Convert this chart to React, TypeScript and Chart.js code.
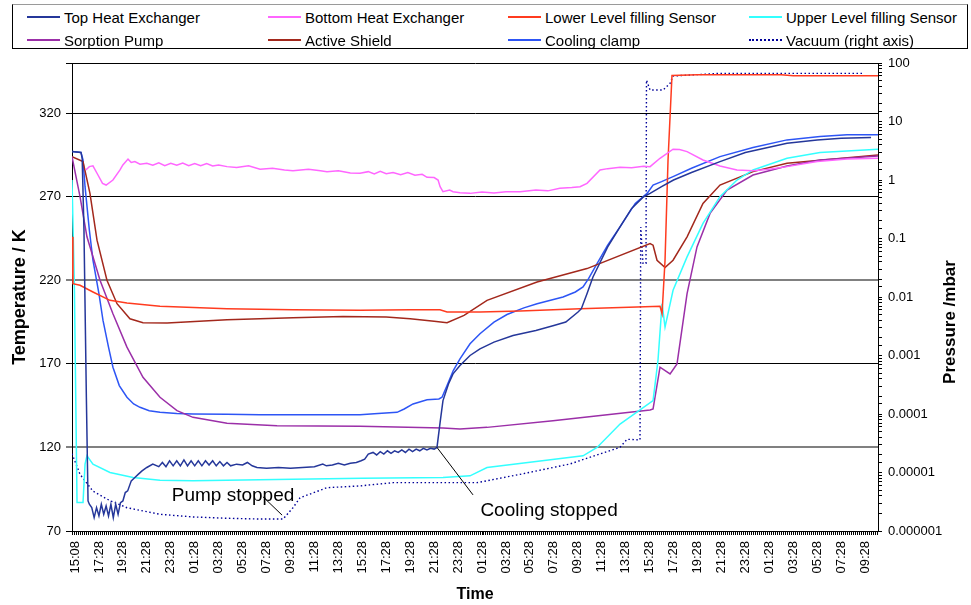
import React, { useEffect, useRef } from "react";
import { Chart, registerables } from "chart.js";

Chart.register(...registerables);

// ---------- data ----------
// x values are hours from the first label (each time label = 2 h step)
const timeLabels = [
  "15:08", "17:28", "19:28", "21:28", "23:28", "01:28", "03:28", "05:28", "07:28", "09:28",
  "11:28", "13:28", "15:28", "17:28", "19:28", "21:28", "23:28", "01:28", "03:28", "05:28",
  "07:28", "09:28", "11:28", "13:28", "15:28", "17:28", "19:28", "21:28", "23:28", "01:28",
  "03:28", "05:28", "07:28", "09:28",
];
const leftTicks = [70, 120, 170, 220, 270, 320];
const pressureLabels = ["0.000001", "0.00001", "0.0001", "0.001", "0.01", "0.1", "1", "10", "100"];

const topHeatExchanger: [number, number][] = [
  [-0.25, 297], [0.5, 296.5], [0.6, 293], [0.75, 250], [0.95, 150], [1.09, 88], [1.2, 86],
  [1.4, 84], [1.6, 78], [1.8, 84], [2.0, 79], [2.2, 86], [2.4, 80], [2.6, 85], [2.8, 79],
  [3.0, 86], [3.2, 78], [3.4, 86], [3.6, 80], [3.8, 87], [4.0, 88], [4.2, 93], [4.4, 94],
  [4.7, 100], [5.0, 102], [5.3, 104], [5.6, 106], [6.0, 108], [6.5, 110],
  [7.0, 108.5], [7.3, 111], [7.6, 108.5], [7.9, 112], [8.2, 109], [8.5, 112], [8.8, 109],
  [9.1, 112.5], [9.4, 109], [9.7, 112], [10.0, 109], [10.3, 112], [10.6, 109], [10.9, 112],
  [11.2, 109.5], [11.5, 112], [11.8, 109], [12.1, 111.5], [12.4, 109], [12.7, 111], [13.0, 109],
  [13.5, 110], [14.0, 109.5], [14.4, 111], [14.8, 109], [15.2, 108], [16.0, 107.5], [17.0, 108],
  [18.0, 107.5], [19.0, 108], [20.0, 108.5], [20.7, 110], [21.0, 109], [21.5, 109.5], [22.0, 110.5],
  [22.5, 109.5], [23.0, 110.5], [23.5, 111], [23.9, 112], [24.2, 113], [24.5, 116], [24.9, 117],
  [25.2, 115.5], [25.5, 117.5], [25.8, 116], [26.1, 118], [26.4, 116.5], [26.7, 118], [27.0, 117],
  [27.3, 118.5], [27.6, 117], [27.9, 119], [28.2, 117.5], [28.5, 119], [28.8, 118], [29.1, 119.5],
  [29.4, 118.5], [29.7, 119.5], [30.0, 119], [30.24, 120],
  [30.5, 135], [30.74, 148], [31.2, 158], [31.58, 164], [32.16, 169], [33.0, 175], [33.83, 179],
  [35.0, 183], [36.59, 187], [38.5, 190], [40.0, 193], [41.0, 195], [42.02, 201], [42.3, 203],
  [42.77, 212], [43.27, 222], [44.5, 240], [45.53, 252], [46.5, 263], [47.5, 270], [48.04, 272],
  [49.0, 276], [50.0, 280], [51.5, 284.5], [53.88, 291], [56.0, 296.5], [59.48, 302], [62.0, 304],
  [64.0, 305], [66.5, 305.5],
];

const bottomHeatExchanger: [number, number][] = [
  [0.9, 286], [1.2, 288], [1.5, 288.5], [1.92, 283], [2.3, 278], [2.6, 277], [3.17, 280],
  [3.76, 286], [4.0, 289], [4.43, 292.5], [4.7, 290.5], [5.0, 291], [5.43, 289.5], [6.0, 290],
  [6.5, 288.8], [7.0, 290.3], [7.5, 288.5], [8.0, 290], [8.5, 288.8], [9.0, 290.2], [9.5, 288.6],
  [10.0, 289.8], [10.5, 288.5], [11.0, 289.8], [11.5, 288.4], [12.0, 289], [12.7, 288], [13.5, 287.5],
  [14.5, 288.5], [15.46, 286.4], [16.5, 287], [17.5, 286], [18.21, 285.6], [19.5, 286.4], [20.5, 285.5],
  [21.05, 285], [22.0, 285.5], [23.0, 284.2], [23.81, 284], [24.5, 285], [25.0, 283.6], [25.5, 285.2],
  [26.0, 283.8], [26.57, 284.5], [27.2, 283.2], [27.8, 284.4], [28.4, 282.8], [29.0, 283.4], [29.41, 281.6],
  [30.0, 281.5], [30.33, 280], [30.5, 276], [30.74, 273], [31.3, 274], [31.58, 273], [32.16, 272.4],
  [33.0, 272], [34.0, 272.8], [35.0, 272.2], [36.0, 273], [37.18, 273], [38.5, 274], [39.5, 273.5],
  [40.5, 275], [41.5, 275.5], [42.19, 276], [42.77, 278], [43.86, 286], [44.5, 286.8], [45.53, 287.6],
  [46.5, 287.4], [47.5, 288.2], [48.04, 288], [48.87, 293], [49.96, 298.4], [50.5, 298.2], [51.13, 297],
  [52.46, 292], [53.88, 288.4], [55.3, 286], [56.64, 285.6], [58.0, 286.5], [59.48, 288], [62.0, 291],
  [64.5, 292.5], [67.08, 293],
];

const lowerLevelSensor: [number, number][] = [
  [-0.25, 246], [-0.17, 218], [0.42, 217], [1.5, 213], [2.92, 208], [4.34, 206.4], [7.1, 204.4],
  [12.7, 203], [18.21, 202.4], [23.81, 202], [28.0, 202.4], [30.49, 202.4], [31.08, 201], [33.83, 201],
  [37.18, 201.6], [42.19, 203], [46.95, 204], [48.87, 204.4], [49.04, 200], [49.29, 232], [49.54, 292],
  [49.87, 342.5], [52.0, 343], [59.0, 343], [60.0, 342.4], [67.08, 342.4],
];

const upperLevelSensor: [number, number][] = [
  [-0.25, 280], [-0.05, 216], [0.17, 87], [0.67, 87], [0.84, 110], [1.0, 115], [1.5, 110],
  [2.92, 105], [4.85, 102], [7.1, 100.4], [9.86, 100], [18.21, 101], [24.0, 101.5], [30.74, 102],
  [33.0, 103], [34.42, 108], [42.44, 115], [43.61, 120], [45.53, 134], [48.29, 148], [48.7, 172],
  [49.04, 206], [49.29, 192], [49.96, 214], [51.13, 234], [52.46, 254], [53.88, 270], [55.3, 280],
  [56.64, 286], [59.48, 293], [62.24, 296.4], [67.08, 298.4],
];

const sorptionPump: [number, number][] = [
  [-0.25, 294], [0.42, 270], [1.0, 246], [2.09, 220], [3.17, 200], [4.34, 180], [5.68, 162],
  [7.1, 150], [8.52, 142], [9.86, 138], [12.7, 134.4], [16.88, 133], [23.81, 132.6], [30.74, 131.6],
  [32.16, 131], [34.42, 132], [39.93, 136], [48.04, 142.4], [48.29, 143], [48.87, 168], [49.71, 164],
  [50.29, 170], [51.13, 212], [51.96, 240], [53.05, 260], [54.47, 274], [56.64, 283], [59.48, 288.4],
  [62.24, 292], [67.08, 294.4],
];

const activeShield: [number, number][] = [
  [-0.25, 294], [0.67, 291], [1.25, 272], [1.84, 244], [2.67, 220], [3.51, 206], [4.59, 197],
  [5.68, 194.6], [7.69, 194.4], [12.7, 196.4], [18.21, 197.6], [22.39, 198.4], [26.0, 198], [28.0, 197],
  [30.0, 195.5], [31.08, 194.6], [32.5, 199], [34.42, 208], [38.6, 219], [42.77, 227], [48.04, 242],
  [48.29, 241], [48.62, 232], [49.29, 227.6], [49.96, 232], [51.13, 246], [52.46, 266], [53.88, 277],
  [56.64, 285], [59.48, 290], [67.08, 295],
];

const coolingClamp: [number, number][] = [
  [-0.25, 297], [0.5, 296.5], [0.67, 292], [0.84, 276], [1.2, 250], [1.5, 232], [2.0, 212],
  [2.34, 196], [2.8, 180], [3.17, 168], [3.7, 157], [4.34, 150], [4.9, 146], [5.43, 144], [6.2, 142],
  [7.1, 141], [8.5, 140.3], [9.86, 140], [12.7, 139.8], [15.46, 139.6], [20.0, 139.6], [23.81, 139.6],
  [25.0, 140.2], [26.9, 141], [27.5, 143], [28.24, 146], [29.41, 148.5], [30.4, 149], [30.66, 150],
  [31.08, 157], [31.6, 166], [32.16, 173], [33.0, 182], [33.83, 188], [35.0, 195], [36.09, 199.5],
  [37.5, 203.5], [38.6, 206], [40.77, 210], [41.8, 213], [42.44, 216], [42.9, 221], [43.61, 230],
  [44.5, 241], [45.53, 252], [46.8, 266], [47.79, 272], [48.29, 277], [49.0, 279], [49.96, 282],
  [51.5, 287], [53.88, 294], [56.64, 299.5], [59.48, 304], [62.24, 306], [64.5, 307], [67.08, 307],
];

// vacuum in mbar (right axis)
const vacuum: [number, number][] = [
  [-0.25, 2.1e-5], [0.42, 9.3e-6], [1.5, 4.8e-6], [2.92, 3.3e-6], [4.34, 2.5e-6], [7.1, 1.93e-6],
  [9.86, 1.74e-6], [12.7, 1.65e-6], [15.46, 1.6e-6], [17.38, 1.6e-6], [18.21, 2.5e-6], [18.8, 3.7e-6],
  [21.05, 5.5e-6], [23.81, 5.9e-6], [26.57, 6.7e-6], [33.58, 6.7e-6], [37.18, 9.3e-6], [41.35, 1.4e-5],
  [45.53, 2.7e-5], [46.12, 3.7e-5], [47.2, 3.6e-5], [47.26, 0.157], [47.45, 0.0375], [47.7, 0.0375],
  [47.74, 51], [48.04, 34.5], [49.12, 34.5], [49.71, 45], [49.96, 60], [53.88, 66.5], [65.83, 66.5],
];

const seriesNames = [
  "Top Heat Exchanger", "Bottom Heat Exchanger", "Lower Level filling Sensor", "Upper Level filling Sensor",
  "Sorption Pump", "Active Shield", "Cooling clamp", "Vacuum (right axis)",
];
const seriesColors = [
  "#25379a", "#ff66ff", "#ff3b1f", "#33ffff", "#9b2fa8", "#a3281c", "#2d55f5", "#000099",
];
const seriesData = [
  topHeatExchanger, bottomHeatExchanger, lowerLevelSensor, upperLevelSensor,
  sorptionPump, activeShield, coolingClamp, vacuum,
];

const annotations = [
  { text: "Pump stopped", tx: 13.2, ty: 91, x1: 15.7, y1: 90.5, x2: 17.3, y2: 79.5 },
  { text: "Cooling stopped", tx: 39.6, ty: 82, x1: 30.24, y1: 120, x2: 33.25, y2: 91.6 },
];

const FONT = '"Liberation Sans", Arial, sans-serif';

const annotationPlugin = {
  id: "annotationsAndRightTitle",
  afterDatasetsDraw(chart: any) {
    const { ctx, scales, chartArea } = chart;
    const xs = scales.x;
    const ys = scales.y;
    ctx.save();
    ctx.strokeStyle = "#000";
    ctx.lineWidth = 1;
    ctx.fillStyle = "#000";
    ctx.font = `19px ${FONT}`;
    ctx.textAlign = "center";
    ctx.textBaseline = "middle";
    for (const a of annotations) {
      ctx.beginPath();
      ctx.moveTo(xs.getPixelForValue(a.x1), ys.getPixelForValue(a.y1));
      ctx.lineTo(xs.getPixelForValue(a.x2), ys.getPixelForValue(a.y2));
      ctx.stroke();
      ctx.fillText(a.text, xs.getPixelForValue(a.tx), ys.getPixelForValue(a.ty));
    }
    // right axis title
    ctx.translate(chart.width - 21, (chartArea.top + chartArea.bottom) / 2 + 25);
    ctx.rotate(-Math.PI / 2);
    ctx.font = `bold 17px ${FONT}`;
    ctx.fillText("Pressure /mbar", 0, 0);
    ctx.restore();
  },
};

export default function App() {
  const ref = useRef<HTMLCanvasElement>(null);

  useEffect(() => {
    document.body.style.margin = "0";
    const datasets = seriesData.map((d, i) => ({
      label: seriesNames[i],
      data: d.map(([x, y]) => ({ x, y })),
      borderColor: seriesColors[i],
      backgroundColor: seriesColors[i],
      borderWidth: i === 7 ? 1.4 : 1.5,
      borderDash: i === 7 ? [1.5, 2.5] : undefined,
      pointRadius: 0,
      tension: 0,
      fill: false,
      yAxisID: i === 7 ? "y2" : "y",
    }));

    const chart = new Chart(ref.current as HTMLCanvasElement, {
      type: "line",
      data: { datasets },
      plugins: [annotationPlugin],
      options: {
        responsive: false,
        animation: false,
        events: [],
        devicePixelRatio: 1,
        layout: { padding: { top: 63, left: 0, right: 0, bottom: 0 } },
        plugins: { legend: { display: false }, tooltip: { enabled: false } },
        scales: {
          x: {
            type: "linear",
            min: -0.25,
            max: 67.08,
            afterBuildTicks: (scale: any) => {
              const t: { value: number }[] = [];
              for (let k = Math.ceil(scale.min * 6); k <= Math.floor(scale.max * 6 + 1e-9); k++) {
                t.push({ value: k / 6 });
              }
              scale.ticks = t;
            },
            afterFit: (scale: any) => {
              scale.height = 74;
            },
            ticks: {
              autoSkip: false,
              maxRotation: 90,
              minRotation: 90,
              padding: 6,
              color: "#000",
              font: { family: FONT, size: 13 },
              callback: (value: any) => {
                const k = Math.round(Number(value) * 6);
                return k >= 0 && k % 12 === 0 ? timeLabels[k / 12] ?? "" : "";
              },
            },
            grid: { drawOnChartArea: false, drawTicks: true, tickLength: 4, color: "#000", lineWidth: 1 },
            border: { color: "#000", width: 1 },
            title: {
              display: true,
              text: "Time",
              color: "#000",
              font: { family: FONT, size: 16, weight: "bold" },
              padding: { top: 0, bottom: 1 },
            },
          },
          y: {
            type: "linear",
            position: "left",
            min: 70,
            max: 350,
            afterBuildTicks: (scale: any) => {
              scale.ticks = [...leftTicks, 350].map((v) => ({ value: v }));
            },
            afterFit: (scale: any) => {
              scale.width = 72;
            },
            ticks: {
              autoSkip: false,
              padding: 5,
              color: "#000",
              font: { family: FONT, size: 13 },
              callback: (value: any) => (leftTicks.includes(Number(value)) ? String(value) : ""),
            },
            grid: {
              tickLength: 6,
              color: (c: any) => (c.tick && (c.tick.value === 120 || c.tick.value === 220) ? "#808080" : "#000"),
              lineWidth: (c: any) => (c.tick && (c.tick.value === 120 || c.tick.value === 220) ? 2 : 1),
            },
            border: { color: "#000", width: 1 },
            title: {
              display: true,
              text: "Temperature / K",
              color: "#000",
              font: { family: FONT, size: 18, weight: "bold" },
              padding: { top: 9, bottom: 0 },
            },
          },
          y2: {
            type: "logarithmic",
            position: "right",
            min: 1e-6,
            max: 100,
            afterFit: (scale: any) => {
              scale.width = 93;
            },
            ticks: {
              autoSkip: false,
              padding: 6,
              color: "#000",
              font: { family: FONT, size: 13 },
              callback: (value: any) => {
                const l = Math.log10(Number(value));
                const r = Math.round(l);
                return Math.abs(l - r) < 1e-6 ? pressureLabels[r + 6] ?? "" : "";
              },
            },
            grid: { drawOnChartArea: false, tickLength: 4, color: "#000", lineWidth: 1 },
            border: { color: "#000", width: 1 },
          },
        },
      } as any,
    });
    return () => chart.destroy();
  }, []);

  const lineX = [27, 268, 508, 749];
  const rowY = [17, 40];

  return (
    <div style={{ position: "relative", width: 971, height: 605, fontFamily: FONT, background: "#fff" }}>
      <canvas ref={ref} width={971} height={605} style={{ position: "absolute", left: 0, top: 0 }} />
      <div
        style={{
          position: "absolute",
          left: 12,
          top: 4,
          width: 956,
          height: 45,
          border: "1px solid #000",
          borderTopColor: "#9a9a9a",
          boxSizing: "border-box",
          background: "#fff",
        }}
      />
      {seriesNames.map((name, i) => {
        const col = i % 4;
        const row = Math.floor(i / 4);
        return (
          <div
            key={name}
            style={{
              position: "absolute",
              left: lineX[col],
              top: rowY[row] - 10,
              height: 20,
              display: "flex",
              alignItems: "center",
              whiteSpace: "nowrap",
              fontSize: 15,
              color: "#000",
            }}
          >
            <span
              style={{
                display: "inline-block",
                width: 33,
                height: 0,
                borderTop: i === 7 ? `2px dotted ${seriesColors[i]}` : `2px solid ${seriesColors[i]}`,
                marginRight: 4,
              }}
            />
            <span>{name}</span>
          </div>
        );
      })}
    </div>
  );
}
